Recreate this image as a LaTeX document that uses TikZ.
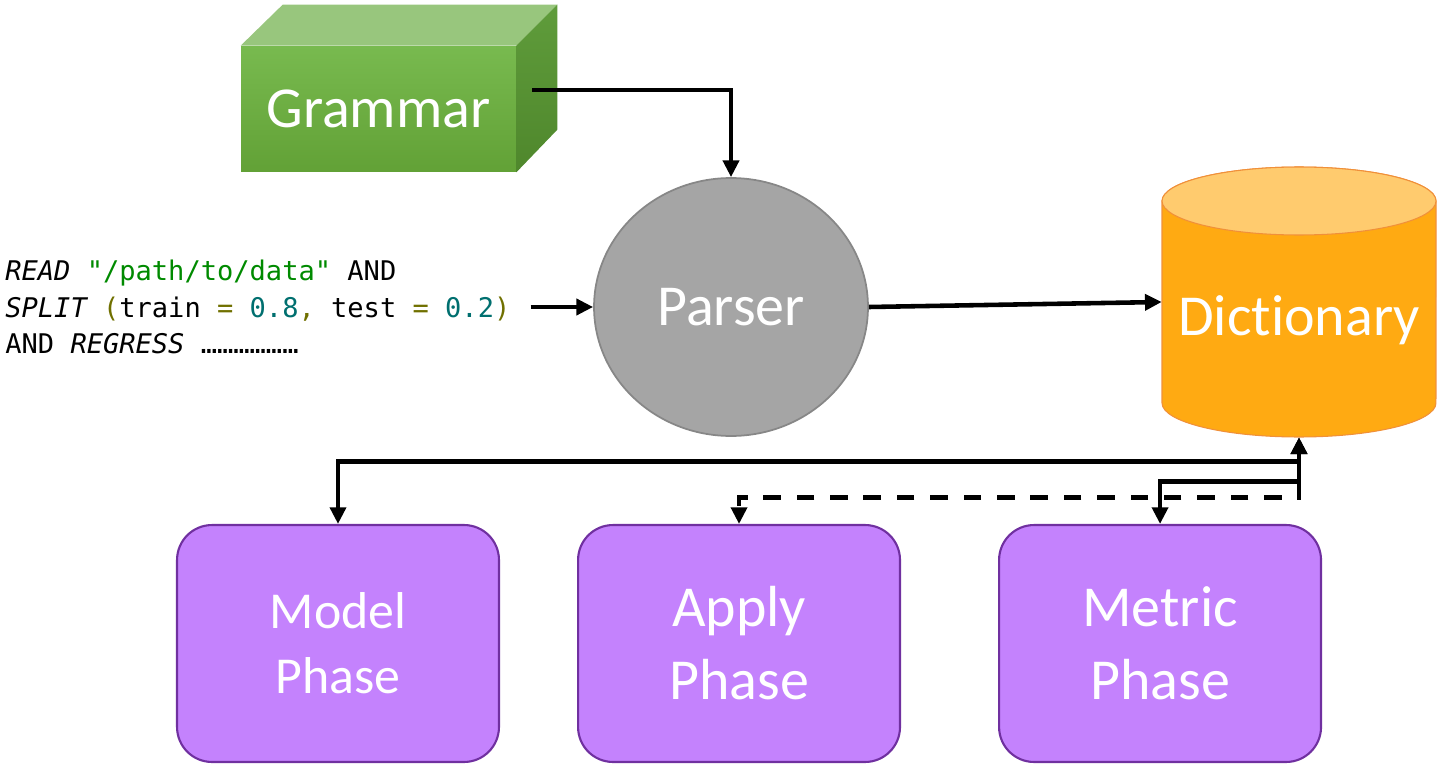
\documentclass[tikz,border=0pt]{standalone}
\usepackage{fontspec}
\setmainfont{Carlito}[Ligatures={NoCommon,NoContextual}, Contextuals={NoAlternate}]
\setmonofont{DejaVu Sans Mono}
\usetikzlibrary{shapes.geometric, arrows.meta, positioning, calc}
\definecolor{gramtop}{HTML}{98C67D}
\definecolor{gramhi}{HTML}{78BA4F}
\definecolor{gramlo}{HTML}{62A136}
\definecolor{gramsidehi}{HTML}{5F9C3B}
\definecolor{gramsidelo}{HTML}{4F872C}
\definecolor{parsefill}{HTML}{A5A5A5}
\definecolor{parseline}{HTML}{878787}
\definecolor{dictfill}{HTML}{FFAA12}
\definecolor{dicttop}{HTML}{FFCB6E}
\definecolor{dictline}{HTML}{F0903A}
\definecolor{phasefill}{HTML}{C482FD}
\definecolor{phaseline}{HTML}{7030A0}
\definecolor{codestr}{HTML}{008A00}
\definecolor{codeop}{HTML}{707000}
\definecolor{codenum}{HTML}{006F6F}
\tikzset{
  gramface/.style={rectangle, top color=gramhi, bottom color=gramlo, minimum width=5.5cm, minimum height=2.52cm, inner sep=0pt, text=white, font=\fontsize{33}{40}\selectfont},
  parsebox/.style={ellipse, draw=parseline, line width=1pt, fill=parsefill, minimum width=5.48cm, minimum height=5.16cm, text=white, font=\fontsize{33}{40}\selectfont},
  phasebox/.style={rectangle, draw=phaseline, line width=1.2pt, fill=phasefill, rounded corners=0.7cm, minimum width=6.44cm, minimum height=4.74cm, align=center, text=white, font=\fontsize{33}{41.5}\selectfont},
  codetext/.style={align=left, inner sep=0pt, font=\ttfamily\fontsize{15.4}{21}\selectfont},
  conn/.style={-{Triangle[length=9.5pt, width=9pt]}, line width=2.6pt},
  conn2/.style={{Triangle[length=9.5pt, width=9pt]}-{Triangle[length=9.5pt, width=9pt]}, line width=2.6pt},
}
\begin{document}
\begin{tikzpicture}[x=0.02cm, y=-0.02cm]
  \useasboundingbox (0,0) rectangle (1442,770);

  % Grammar block
  \node[gramface] (gram) at (378.5,109) {Grammar};
  \fill[gramtop] (gram.north west) -- ++(42,-41) -- ($(gram.north east)+(41,-41)$) -- (gram.north east) -- cycle;
  \shade[top color=gramsidehi, bottom color=gramsidelo] (gram.north east) -- ++(41,-41) -- ++(0,125) -- (gram.south east) -- cycle;
  \coordinate (gout) at ($(gram.east)+(16,-19)$);

  % Parser and query text
  \node[parsebox] (parser) at (731,307) {Parser};
  \node[codetext, anchor=west] (query) at (5,307) {%
    {\itshape READ} \textcolor{codestr}{"/path/to/data"} AND\\
    {\itshape SPLIT} \textcolor{codeop}{(}train \textcolor{codeop}{=} \textcolor{codenum}{0.8}\textcolor{codeop}{,} test \textcolor{codeop}{=} \textcolor{codenum}{0.2}\textcolor{codeop}{)}\\
    AND {\itshape REGRESS} ………………};

  % Dictionary cylinder
  \node[minimum width=5.48cm, minimum height=5.4cm, inner sep=0pt] (dict) at (1299,302) {};
  \filldraw[fill=dictfill, draw=dictline, line width=0.6pt] (1162,201) -- (1162,403)
    arc[start angle=180, end angle=360, x radius=2.74cm, y radius=0.68cm] -- (1436,201)
    arc[start angle=0, end angle=180, x radius=2.74cm, y radius=0.68cm] -- cycle;
  \filldraw[fill=dicttop, draw=dictline, line width=0.6pt] (1299,201) ellipse[x radius=2.74cm, y radius=0.68cm];
  \node[text=white, font=\fontsize{33}{40}\selectfont] (dictlabel) at (1299,320) {Dictionary};

  % Phases
  \node[phasebox, font=\fontsize{29.5}{37}\selectfont] (model) at (338,643.5) {Model\\Phase};
  \node[phasebox, right=1.54cm of model] (apply) {Apply\\Phase};
  \node[phasebox, right=1.94cm of apply] (metric) {Metric\\Phase};

  % Arrows
  \draw[conn] (gout) -| (parser.north);
  \draw[conn] ($(query.east)+(20,0)$) -- (parser.west);
  \draw[conn] (parser.east) -- (dict.west);
  \coordinate (busA) at ($(dict.south)+(0,24)$);
  \coordinate (busB) at ($(dict.south)+(0,44)$);
  \draw[conn2] (model.north) |- (busA) -- (dict.south);
  \draw[conn2] (metric.north) |- (busB) -- (dict.south);
  \draw[conn, dash pattern=on 10pt off 9pt] (busB) -- ++(0,16) -| (apply.north);
\end{tikzpicture}
\end{document}
